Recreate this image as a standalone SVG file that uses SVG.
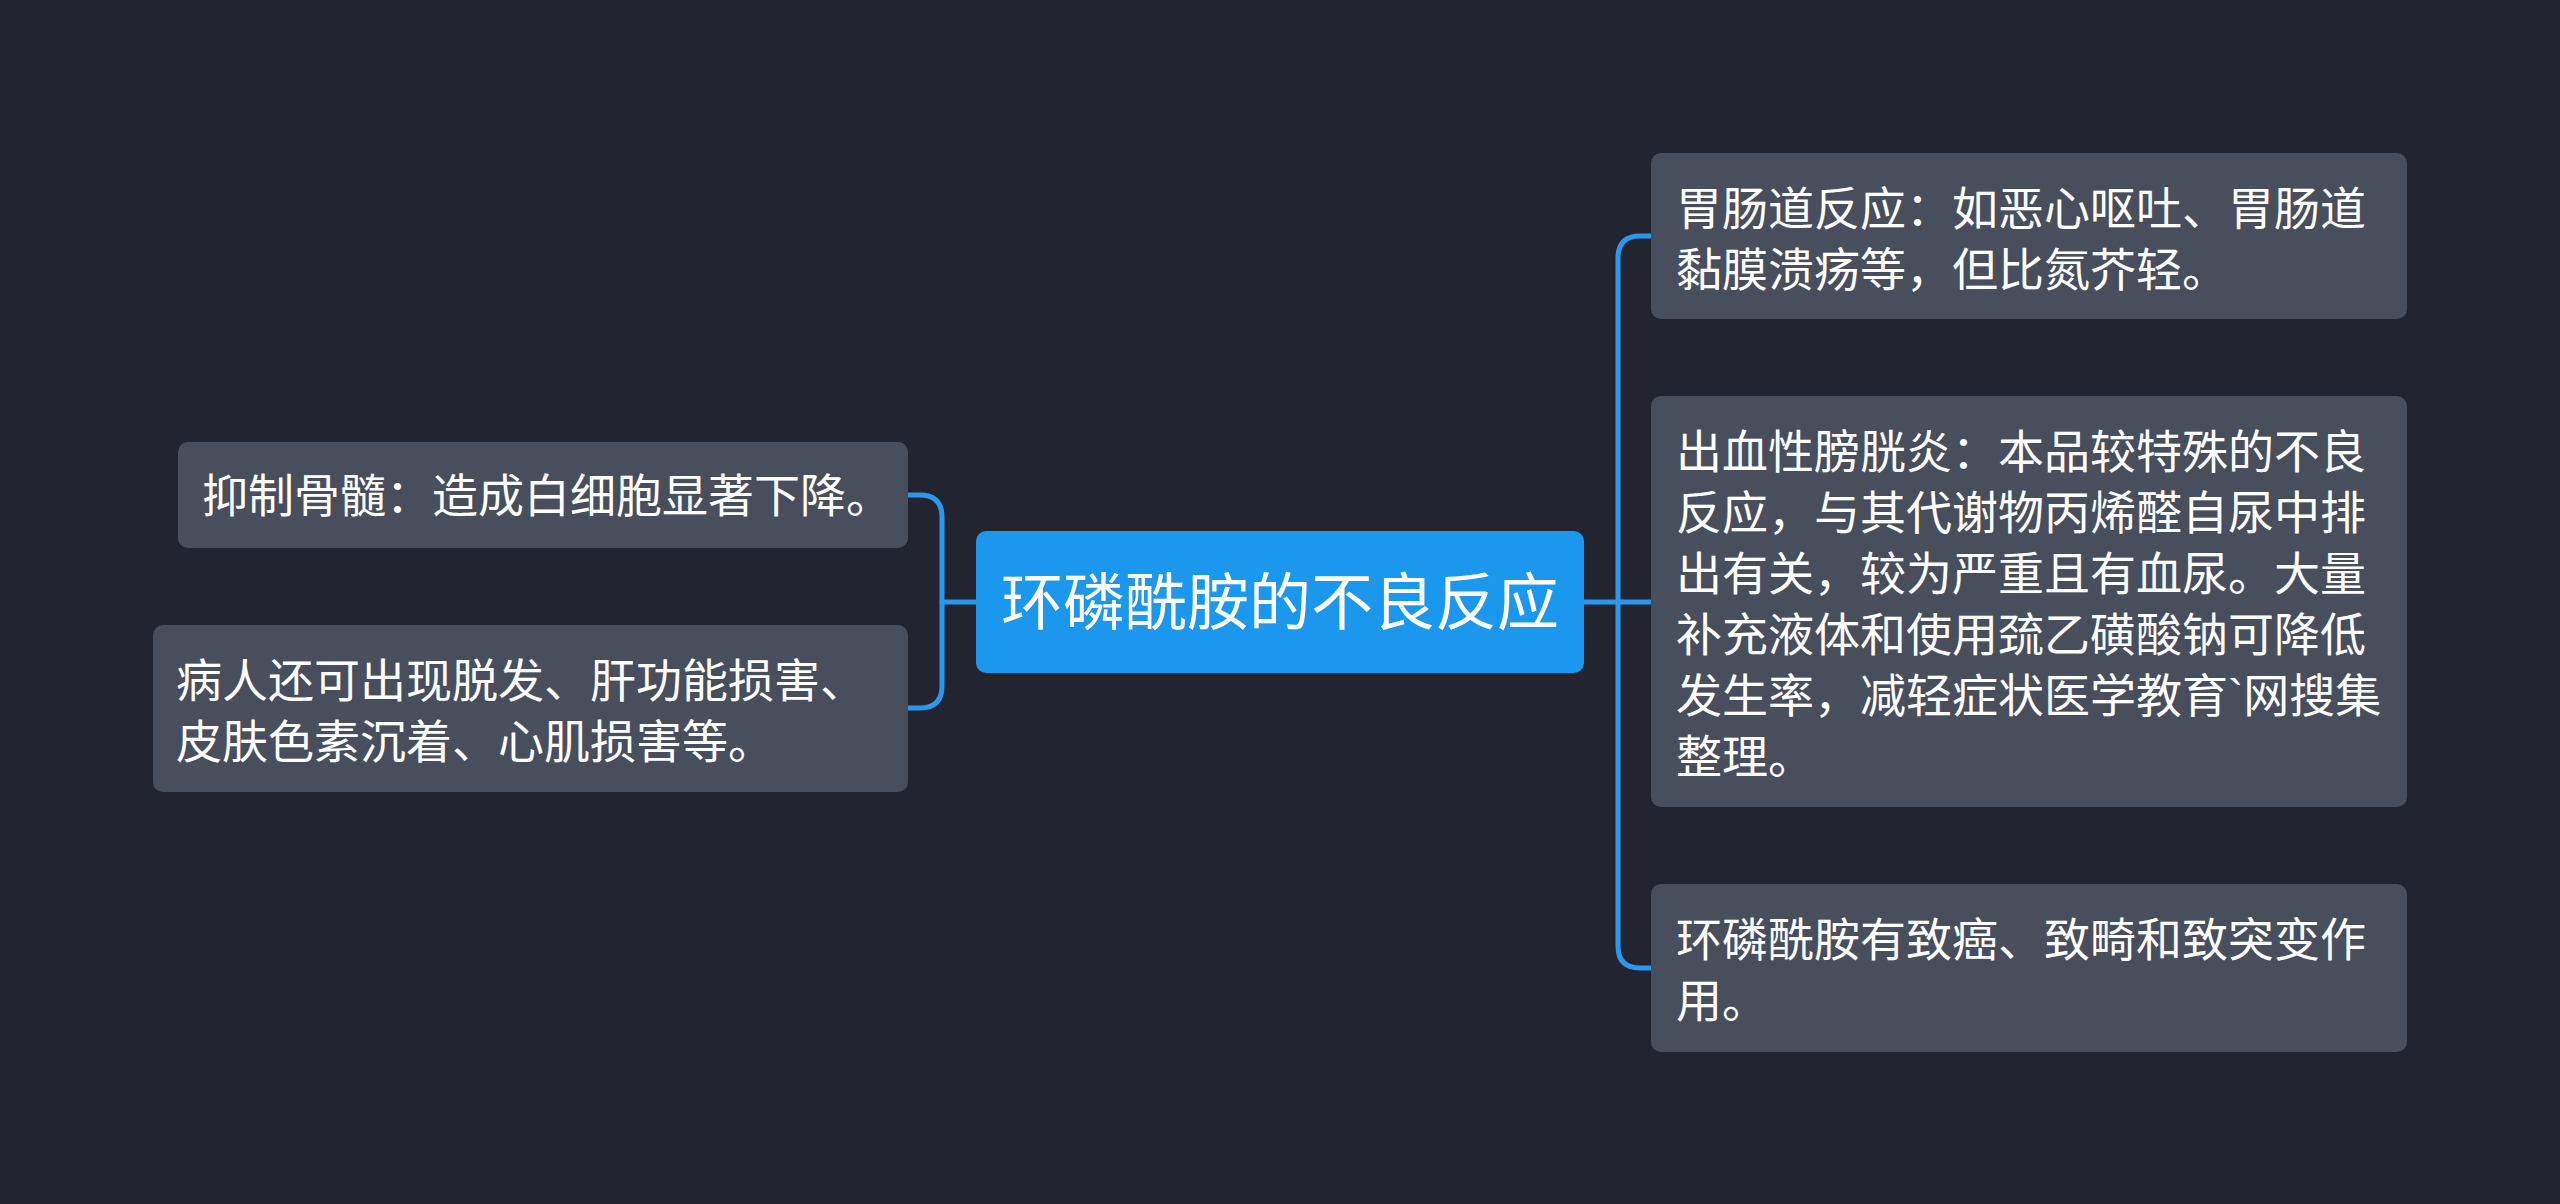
<svg xmlns="http://www.w3.org/2000/svg" width="2560" height="1204" viewBox="0 0 2560 1204">
<style>
.bg{fill:#22252f}
.node{fill:#484e5c}
.root{fill:#1b97ee}
.t{font-family:"Noto Sans CJK SC","Noto Sans",sans-serif;font-size:46px;fill:#ffffff}
.lat{font-family:"Liberation Sans",sans-serif}
.rt{font-family:"Noto Sans CJK SC","Noto Sans",sans-serif;font-size:62px;fill:#ffffff;text-anchor:middle}
.c{fill:none;stroke:#2b98ee;stroke-width:5;stroke-linecap:round;stroke-linejoin:round}
</style>
<rect class="bg" x="0" y="0" width="2560" height="1204"/>
<g id="connectors">
<path class="c" d="M1584 602 H1618"/>
<path class="c" d="M1650 236 H1640 Q1618 236 1618 258 V946 Q1618 968 1640 968 H1650"/>
<path class="c" d="M1618 602 H1650"/>
<path class="c" d="M976 602 H942"/>
<path class="c" d="M908 495 H920 Q942 495 942 517 V686 Q942 708 920 708 H908"/>
</g>
<g id="root">
<rect class="root" x="976" y="531" width="608" height="142" rx="10"/>
<text class="rt" x="1280" y="625">环磷酰胺的不良反应</text>
</g>
<g id="node-l1">
<rect class="node" x="178" y="442" width="730" height="106" rx="10"/>
<text class="t" x="202" y="512">抑制骨髓：造成白细胞显著下降。</text>
</g>
<g id="node-l2">
<rect class="node" x="153" y="625" width="755" height="167" rx="10"/>
<text class="t" x="176" y="697">病人还可出现脱发、肝功能损害、</text>
<text class="t" x="176" y="758">皮肤色素沉着、心肌损害等。</text>
</g>
<g id="node-r1">
<rect class="node" x="1651" y="153" width="756" height="166" rx="10"/>
<text class="t" x="1676" y="225">胃肠道反应：如恶心呕吐、胃肠道</text>
<text class="t" x="1676" y="286">黏膜溃疡等，但比氮芥轻。</text>
</g>
<g id="node-r2">
<rect class="node" x="1651" y="396" width="756" height="411" rx="10"/>
<text class="t" x="1676" y="468">出血性膀胱炎：本品较特殊的不良</text>
<text class="t" x="1676" y="529">反应，与其代谢物丙烯醛自尿中排</text>
<text class="t" x="1676" y="590">出有关，较为严重且有血尿。大量</text>
<text class="t" x="1676" y="651">补充液体和使用巯乙磺酸钠可降低</text>
<text class="t" x="1676" y="712">发生率，减轻症状医学教育<tspan class="lat">`</tspan>网搜集</text>
<text class="t" x="1676" y="773">整理。</text>
</g>
<g id="node-r3">
<rect class="node" x="1651" y="884" width="756" height="168" rx="10"/>
<text class="t" x="1676" y="956">环磷酰胺有致癌、致畸和致突变作</text>
<text class="t" x="1676" y="1017">用。</text>
</g>
</svg>
